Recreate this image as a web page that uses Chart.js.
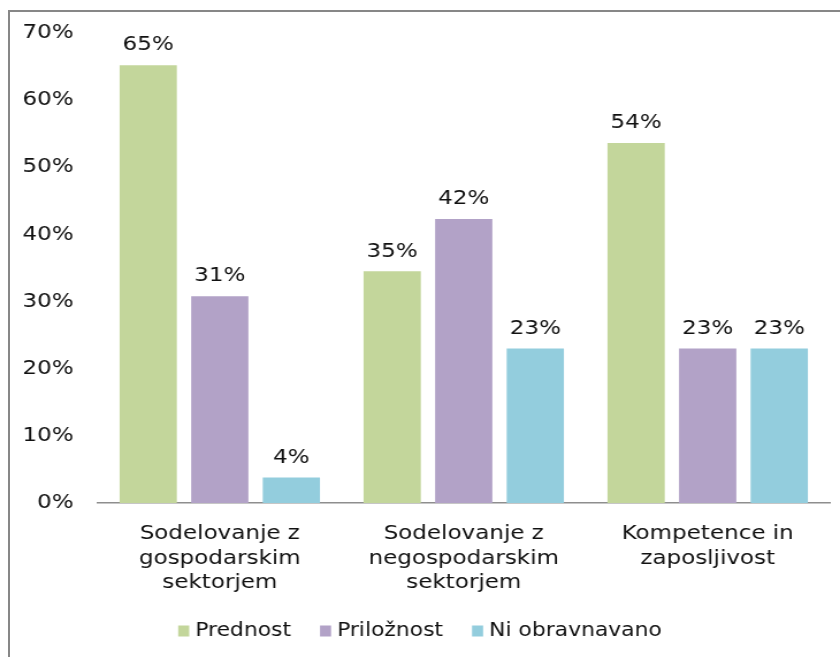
<!DOCTYPE html>
<html>
<head>
<meta charset="utf-8">
<script src="https://cdn.jsdelivr.net/npm/chart.js@4/dist/chart.umd.min.js"></script>
<style>
  html, body { margin: 0; padding: 0; background: #fff; overflow: hidden; }
  #wrap { position: relative; width: 840px; height: 657px; }
  #frame { position: absolute; left: 8px; top: 10px; width: 900px; height: 700px;
           border-left: 2px solid #878787; border-top: 2px solid #878787; box-sizing: border-box; }
  #c { position: absolute; left: 0; top: 0; width: 730px; height: 657px;
       transform: scaleX(1.1507); transform-origin: 0 0; }
</style>
</head>
<body>
<div id="wrap">
  <div id="frame"></div>
  <canvas id="c" width="730" height="657"></canvas>
</div>
<script>
const categories = [
  ["Sodelovanje z", "gospodarskim", "sektorjem"],
  ["Sodelovanje z", "negospodarskim", "sektorjem"],
  ["Kompetence in", "zaposljivost"]
];
const seriesNames = ["Prednost", "Priložnost", "Ni obravnavano"];
const prednost = [65.2, 34.5, 53.6];
const priloznost = [30.8, 42.3, 23.0];
const niObravnavano = [3.8, 23.0, 23.0];
const yTicks = [0, 10, 20, 30, 40, 50, 60, 70];
const colors = ["#c3d69b", "#b2a2c7", "#93cddd"];

const FONT = "'DejaVu Sans', Verdana, sans-serif";
const TEXT = "#111";

const valueLabels = {
  id: 'valueLabels',
  afterDatasetsDraw(chart) {
    const ctx = chart.ctx;
    ctx.save();
    ctx.font = "20px " + FONT;
    ctx.fillStyle = TEXT;
    ctx.textAlign = "center";
    ctx.textBaseline = "middle";
    chart.data.datasets.forEach((ds, i) => {
      chart.getDatasetMeta(i).data.forEach((bar, j) => {
        ctx.fillText(Math.round(ds.data[j]) + "%", bar.x, bar.y - 20);
      });
    });
    ctx.restore();
  }
};

const bottomLegend = {
  id: 'bottomLegend',
  afterDraw(chart) {
    const ctx = chart.ctx;
    ctx.save();
    ctx.font = "19px " + FONT;
    ctx.textBaseline = "middle";
    ctx.textAlign = "left";
    const box = 9.6, gap = 5.2, itemGap = 25.2, cy = 631;
    const items = chart.data.datasets.map(ds => ({
      label: ds.label, color: ds.backgroundColor, w: ctx.measureText(ds.label).width
    }));
    const total = items.reduce((s, it) => s + box + gap + it.w, 0) + itemGap * (items.length - 1);
    let x = chart.width / 2 - total / 2;
    items.forEach(it => {
      ctx.fillStyle = it.color;
      ctx.fillRect(x, cy - 5.5, box, 11);
      ctx.fillStyle = TEXT;
      ctx.fillText(it.label, x + box + gap, cy);
      x += box + gap + it.w + itemGap;
    });
    ctx.restore();
  }
};

new Chart(document.getElementById('c'), {
  type: 'bar',
  data: {
    labels: categories,
    datasets: [
      { label: seriesNames[0], data: prednost, backgroundColor: colors[0] },
      { label: seriesNames[1], data: priloznost, backgroundColor: colors[1] },
      { label: seriesNames[2], data: niObravnavano, backgroundColor: colors[2] }
    ]
  },
  options: {
    responsive: false,
    animation: false,
    devicePixelRatio: 1,
    datasets: { bar: { categoryPercentage: 0.88, barPercentage: 0.8 } },
    layout: { padding: { left: 0, right: 9, top: 33, bottom: 62 } },
    plugins: {
      tooltip: { enabled: false },
      legend: { display: false }
    },
    scales: {
      x: {
        grid: { display: false, drawTicks: false },
        border: { display: true, color: "#8e8e8e", width: 1.5 },
        ticks: {
          font: { family: FONT, size: 20, lineHeight: 1.22 },
          color: TEXT,
          padding: 19,
          maxRotation: 0,
          autoSkip: false
        },
        afterFit(scale) { scale.height = 92; }
      },
      y: {
        min: 0, max: 70,
        afterBuildTicks(scale) { scale.ticks = yTicks.map(v => ({ value: v })); },
        grid: { display: false, drawTicks: false },
        border: { display: false },
        ticks: {
          font: { family: FONT, size: 20 },
          color: TEXT,
          padding: 21,
          callback: v => v + "%"
        },
        afterFit(scale) { scale.width = 85; }
      }
    }
  },
  plugins: [valueLabels, bottomLegend]
});
</script>
</body>
</html>
